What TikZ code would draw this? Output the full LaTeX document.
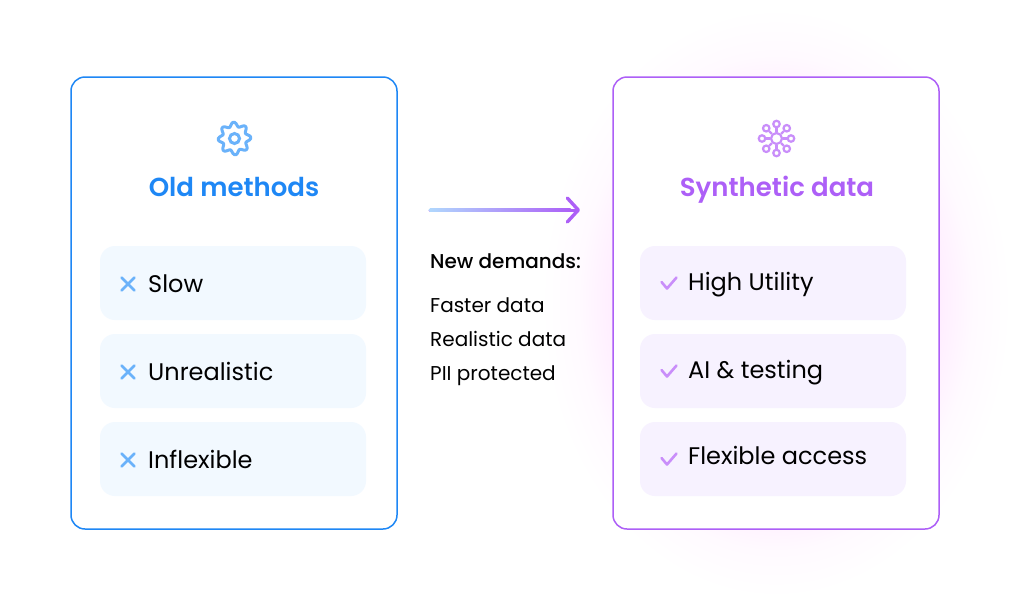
\documentclass[tikz,border=0pt]{standalone}
\usepackage{fontspec}
\setmainfont{Poppins}
\newfontfamily\headfont{Poppins SemiBold}
\newfontfamily\midfont{Poppins Medium}
\usetikzlibrary{arrows.meta}
\definecolor{oldblue}{HTML}{1E87F5}
\definecolor{iconblue}{HTML}{6AB2FA}
\definecolor{rowblue}{HTML}{F2F9FF}
\definecolor{synpurple}{HTML}{AD5FF7}
\definecolor{iconpurple}{HTML}{C98EFA}
\definecolor{rowpurple}{HTML}{F7F2FF}
\definecolor{startblue}{HTML}{B0D8FD}
\pgfdeclareradialshading{cardglow}{\pgfpoint{0bp}{0bp}}{
	color(0bp)=(magenta!11!white);
	color(15bp)=(magenta!11!white);
	color(18bp)=(magenta!6!white);
	color(21bp)=(magenta!2!white);
	color(25bp)=(white);
	color(50bp)=(white)}

\begin{document}
\begin{tikzpicture}[x=1pt,y=-1pt,
card/.style = {draw,fill=white,rounded corners=14pt,line width=1.5pt,minimum width=326pt,minimum height=452pt,inner sep=0pt},
rowbox/.style = {rounded corners=15pt,minimum width=266pt,minimum height=74pt,inner sep=0pt},
title/.style = {font=\headfont\fontsize{26}{30}\selectfont,anchor=base},
item/.style = {font=\fontsize{24}{28}\selectfont,anchor=base west,inner sep=0pt,text=black},
side/.style = {font=\fontsize{20}{24}\selectfont,anchor=base west,inner sep=0pt,text=black},
icon/.style = {line width=2.6pt,line cap=round,line join=round}]
\useasboundingbox (0,0) rectangle (1010,606);
\fill[white] (0,0) rectangle (1010,606);

% glow behind the right card
\shade[shading=cardglow] (776,303) ellipse [x radius=235,y radius=295];

% cards
\node[card,draw=oldblue] (oldcard) at (234,303){};
\node[card,draw=synpurple] (syncard) at (776,303){};

% titles
\node[title,text=oldblue] (oldtitle) at (234,196){Old methods};
\node[title,text=synpurple] (syntitle) at (777,196){Synthetic data};

% rows on the left
\foreach \name/\y/\base/\txt in {slow/283/292/Slow,unreal/371/380/Unrealistic,inflex/459/468/Inflexible}{
	\node[rowbox,fill=rowblue] (\name) at (233,\y){};
	\node[item] (\name text) at (148,\base){\txt};
	\draw[icon,iconblue] (121.5,\y-5.5) -- (134.5,\y+7.5) (134.5,\y-5.5) -- (121.5,\y+7.5);
}

% rows on the right
\foreach \name/\y/\base/\txt in {utility/283/290/High Utility,testing/371/378/AI \& testing,access/459/464/Flexible access}{
	\node[rowbox,fill=rowpurple] (\name) at (773,\y){};
	\node[item] (\name text) at (688,\base){\txt};
}
\draw[icon,iconpurple] (661.5,282) -- (667,288.5) -- (676.5,277.5);
\draw[icon,iconpurple] (661.5,370) -- (667,376.5) -- (676.5,365.5);
\draw[icon,iconpurple] (661.5,458) -- (667,464.5) -- (676.5,453.5);

% gear
\draw[icon,iconblue,line width=3pt] plot[smooth cycle,samples=64,domain=0:354.375] ({234.5+(14.2+2.2*cos(8*\x+22.5))*cos(\x)},{138.5+(14.2+2.2*cos(8*\x+22.5))*sin(\x)});
\node[circle,draw=iconblue,line width=3pt,minimum size=10pt,inner sep=0pt] (gearhub) at (234.5,138.5){};

% network
\node[circle,draw=iconpurple,line width=2.2pt,minimum size=11pt,inner sep=0pt] (hub) at (776.5,138.5){};
\foreach \a in {0,45,...,315}{
	\node[circle,draw=iconpurple,line width=2.2pt,minimum size=6.5pt,inner sep=0pt] (sat\a) at ({776.5+14.5*cos(\a)},{138.5+14.5*sin(\a)}){};
	\draw[iconpurple,line width=2.2pt] (hub) -- (sat\a);
}

% arrow
\coordinate (arrowstart) at (430,210);
\coordinate (arrowend) at (580,210);
\draw[synpurple,line width=3pt,line cap=round,line join=round,-{Straight Barb[length=11pt,width=24pt,line width=3.4pt,round]}] (arrowstart) -- (arrowend);
\shade[left color=startblue,right color=synpurple,rounded corners=1.7pt] (428.5,208.2) rectangle (572,211.8);

% text in the middle
\node[side,font=\midfont\fontsize{20}{24}\selectfont] (demands) at (430,268){New demands:};
\node[side] (faster) at (430,312){Faster data};
\node[side] (realistic) at (430,346){Realistic data};
\node[side] (protected) at (430,380){PII protected};
\end{tikzpicture}
\end{document}
